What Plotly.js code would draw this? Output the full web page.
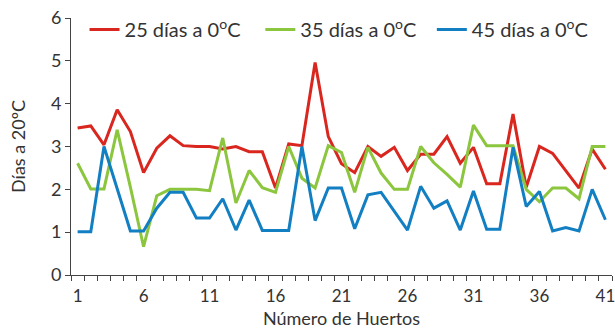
<!DOCTYPE html>
<html>
<head>
<meta charset="utf-8">
<script src="https://cdn.plot.ly/plotly-3.0.1.min.js"></script>
<style>html,body{margin:0;padding:0;background:#fff}#chart{width:615px;height:331px}</style>
</head>
<body>
<div id="chart"></div>
<script>
var huertos = [];
for (var k = 1; k <= 41; k++) huertos.push(k);

var dias25 = [3.43,3.48,3.04,3.86,3.35,2.39,2.96,3.25,3.02,3.0,3.0,2.94,3.0,2.88,2.88,2.03,3.06,3.02,4.96,3.23,2.6,2.39,3.0,2.77,2.98,2.44,2.82,2.82,3.23,2.61,2.98,2.13,2.13,3.76,2.05,3.0,2.84,2.44,2.03,2.94,2.47];
var dias35 = [2.61,2.01,2.01,3.39,2.05,0.66,1.85,2.0,2.0,2.0,1.97,3.2,1.68,2.44,2.04,1.93,3.0,2.26,2.03,3.02,2.86,1.93,2.98,2.38,2.0,2.0,3.0,2.62,2.35,2.05,3.5,3.02,3.02,3.02,2.0,1.71,2.03,2.03,1.78,3.0,3.0];
var dias45 = [1.01,1.01,3.0,2.0,1.03,1.03,1.56,1.93,1.93,1.33,1.33,1.78,1.05,1.75,1.04,1.04,1.04,3.0,1.27,2.03,2.03,1.08,1.87,1.93,1.48,1.05,2.07,1.56,1.73,1.05,1.96,1.07,1.07,2.98,1.6,1.95,1.03,1.11,1.03,2.0,1.29];

var seriesNames = ['25 días a 0<sup>o</sup>C','35 días a 0<sup>o</sup>C','45 días a 0<sup>o</sup>C'];
var xTickVals = [1,6,11,16,21,26,31,36,41];
var xTickText = ['1','6','11','16','21','26','31','36','41'];
var yTickVals = [0,1,2,3,4,5,6];

var colors = ['#d9261f','#8cc63e','#137fc3'];
var legendIds = ['legend','legend2','legend3'];
var data = [dias25, dias35, dias45].map(function(v, i){
  return {x: huertos, y: v, type: 'scatter', mode: 'lines', name: seriesNames[i],
          legend: legendIds[i], line: {color: colors[i], width: 3}};
});

var fontFam = 'Lato, "Open Sans", sans-serif';
function mkLegend(xpos){
  return {orientation: 'h', x: xpos, xanchor: 'left', y: 0.955, yanchor: 'middle',
          font: {family: fontFam, size: 20, color: '#333'}, bgcolor: 'rgba(0,0,0,0)',
          itemwidth: 30};
}
var layout = {
  width: 615, height: 331,
  margin: {l: 71, r: 3, t: 18, b: 56},
  paper_bgcolor: '#fff', plot_bgcolor: '#fff',
  font: {family: fontFam, color: '#333', size: 17},
  showlegend: true,
  legend: mkLegend(0.025),
  legend2: mkLegend(0.35),
  legend3: mkLegend(0.667),
  xaxis: {
    range: [0.5, 41.5], showgrid: false, zeroline: false,
    showline: true, linecolor: '#444', linewidth: 1,
    tickmode: 'array', tickvals: xTickVals, ticktext: xTickText, ticks: '',
    ticklabeloverflow: 'allow', ticklabelstandoff: 6,
    minor: {tick0: 0.5, dtick: 1, ticks: 'outside', ticklen: 5, tickcolor: '#444', showgrid: false},
    tickfont: {family: fontFam, size: 17, color: '#333'},
    title: {text: 'Número de Huertos', font: {family: fontFam, size: 18, color: '#333'}, standoff: 6}
  },
  yaxis: {
    range: [0, 6], showgrid: false, zeroline: false,
    showline: true, linecolor: '#444', linewidth: 1,
    tickmode: 'array', tickvals: yTickVals, ticks: 'outside', ticklen: 5, tickcolor: '#444',
    tickfont: {family: fontFam, size: 18, color: '#333'},
    title: {text: 'Días a 20ºC', font: {family: fontFam, size: 18, color: '#333'}, standoff: 20}
  }
};
Plotly.newPlot('chart', data, layout, {displayModeBar: false, staticPlot: true});
</script>
</body>
</html>
